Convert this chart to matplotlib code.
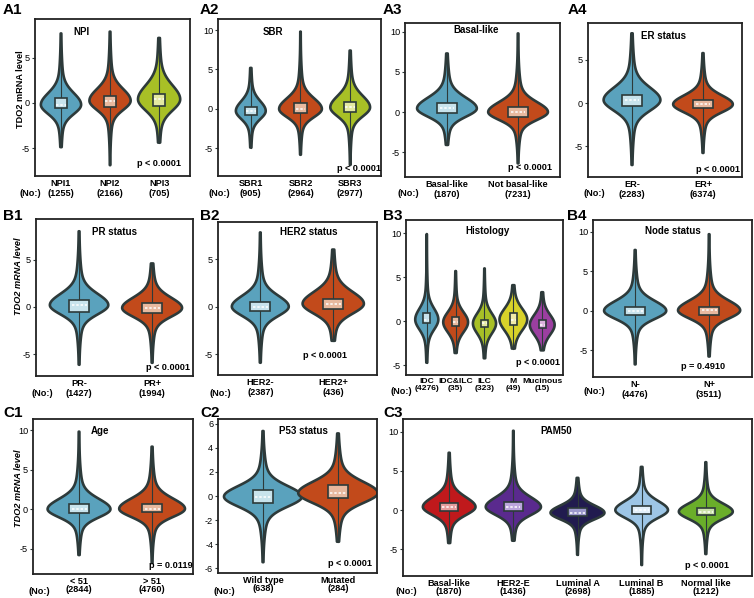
import numpy as np
import matplotlib
matplotlib.use("Agg")
import matplotlib.pyplot as plt
from matplotlib.patches import Rectangle

plt.rcParams["font.family"] = ["Liberation Sans", "DejaVu Sans"]
plt.rcParams["axes.unicode_minus"] = False

# ---- data: each row is (min, q1, median, q3, max) of TDO2 level
npi_labels = ["NPI1", "NPI2", "NPI3"]
npi_n = [1255, 2166, 705]
npi_stats = [[-4.9, -0.6, -0.2, 0.5, 7.7], [-6.9, -0.4, 0.25, 0.8, 7.9], [-4.4, -0.3, 0.4, 1.0, 7.2]]

sbr_labels = ["SBR1", "SBR2", "SBR3"]
sbr_n = [905, 2964, 2977]
sbr_stats = [[-4.9, -0.75, -0.25, 0.25, 5.2], [-5.8, -0.5, 0.0, 0.75, 9.8], [-7.1, -0.35, 0.2, 0.9, 7.4]]

basal_labels = ["Basal-like", "Not basal-like"]
basal_n = [1870, 7231]
basal_stats = [[-4.1, -0.15, 0.45, 1.1, 7.3], [-6.4, -0.6, 0.0, 0.6, 9.8]]

er_labels = ["ER-", "ER+"]
er_n = [2283, 6374]
er_stats = [[-7.2, -0.35, 0.35, 0.93, 8.1], [-5.8, -0.6, -0.15, 0.35, 5.8]]

pr_labels = ["PR-", "PR+"]
pr_n = [1427, 1994]
pr_stats = [[-6.1, -0.5, 0.2, 0.74, 8.0], [-5.9, -0.65, -0.1, 0.4, 4.6]]

her2_labels = ["HER2-", "HER2+"]
her2_n = [2387, 436]
her2_stats = [[-5.9, -0.5, 0.0, 0.5, 7.8], [-3.6, -0.3, 0.3, 0.85, 6.0]]

hist_labels = ["IDC", "IDC&ILC", "ILC", "M", "Mucinous"]
hist_n = [4276, 35, 323, 49, 15]
hist_stats = [[-4.7, -0.2, 0.2, 0.9, 9.9], [-3.6, -0.55, -0.1, 0.45, 5.7], [-4.2, -0.7, -0.25, 0.2, 6.0],
              [-3.1, -0.45, 0.2, 0.9, 4.1], [-3.3, -0.8, -0.4, 0.1, 3.3]]

node_labels = ["N-", "N+"]
node_n = [4476, 3511]
node_stats = [[-6.8, -0.6, 0.0, 0.5, 7.7], [-5.8, -0.5, 0.05, 0.5, 9.7]]

age_labels = ["< 51", "> 51"]
age_n = [2844, 4760]
age_stats = [[-5.8, -0.5, 0.0, 0.6, 9.8], [-6.8, -0.4, 0.05, 0.6, 7.9]]

p53_labels = ["Wild type", "Mutated"]
p53_n = [638, 284]
p53_stats = [[-5.5, -0.6, -0.05, 0.5, 5.4], [-3.8, -0.2, 0.25, 0.9, 5.2]]

pam_labels = ["Basal-like", "HER2-E", "Luminal A", "Luminal B", "Normal like"]
pam_n = [1870, 1436, 2698, 1885, 1212]
pam_stats = [[-4.2, -0.1, 0.4, 0.9, 7.3], [-3.9, -0.1, 0.4, 1.0, 10.1], [-5.7, -0.8, -0.35, 0.25, 4.1],
             [-7.0, -0.5, 0.0, 0.5, 5.5], [-5.6, -0.65, -0.2, 0.3, 6.1]]

titles = ["NPI", "SBR", "Basal-like", "ER status", "PR status", "HER2 status", "Histology",
          "Node status", "Age", "P53 status", "PAM50"]
pvals = ["p < 0.0001", "p < 0.0001", "p < 0.0001", "p < 0.0001", "p < 0.0001", "p < 0.0001",
         "p < 0.0001", "p = 0.4910", "p = 0.0119", "p < 0.0001", "p < 0.0001"]
tags = ["A1", "A2", "A3", "A4", "B1", "B2", "B3", "B4", "C1", "C2", "C3"]

# ---- colours
DARK = "#2d3a3a"
BLUE, ORANGE, GREEN = "#5aa2bd", "#c24a1b", "#a8c026"
BLUE_L, ORANGE_L, GREEN_L = "#c8e3ec", "#e8b99f", "#e3e9a2"
C2 = [BLUE, ORANGE]; C2L = [BLUE_L, ORANGE_L]
C3 = [BLUE, ORANGE, GREEN]; C3L = [BLUE_L, ORANGE_L, GREEN_L]
HIST_C = [BLUE, ORANGE, GREEN, "#d8d22a", "#9b3fa0"]
HIST_CL = [BLUE_L, ORANGE_L, GREEN_L, "#efeaa8", "#d9b0dc"]
PAM_C = ["#c0191c", "#5a2a8e", "#211b4f", "#9dc6e6", "#6aae2a"]
PAM_CL = ["#e59c9c", "#bba5dc", "#9d99cc", "#e2f0fa", "#cbe2ab"]

W, H = 754, 598
fig = plt.figure(figsize=(W / 100, H / 100), dpi=100)


def violin(ax, x, st, color, light, w, su, sd, bw):
    lo, q1, med, q3, hi = st
    y = np.linspace(lo, hi, 500)
    z = np.where(y >= med, (y - med) / su, (med - y) / sd)
    g = 0.85 * np.exp(-0.5 * z ** 2) + 0.15 * np.exp(-0.5 * (z / 2.5) ** 2)
    hw = 0.004 + (w - 0.004) * g
    ax.fill(np.r_[x - hw, (x + hw)[::-1]], np.r_[y, y[::-1]], facecolor=color,
            edgecolor=DARK, lw=1.9, joinstyle="round", zorder=2)
    ax.plot([x, x], [lo, hi], color=DARK, lw=0.8, zorder=3)
    ax.add_patch(Rectangle((x - bw / 2, q1), bw, q3 - q1, facecolor=light,
                           edgecolor=DARK, lw=1.2, zorder=4))
    ax.plot([x - bw * 0.38, x + bw * 0.38], [med, med], color="white", lw=1.1,
            ls=(0, (1.6, 1.2)), zorder=5)


# layout: pixel box (left, top, right, bottom), xlim, ylim, yticks, half widths, sigma up/down,
# box width, title pos, p-value pos/align, label linespacing, (No:) pixel pos
panels = [
    dict(box=(35, 19, 190, 176), xl=(0.47, 3.63), yl=(-8.1, 9.3), yt=[-5, 0, 5],
         labels=npi_labels, n=npi_n, st=npi_stats, c=C3, cl=C3L, w=[0.41, 0.42, 0.43],
         su=[1.25, 1.25, 1.5], sd=[1.0, 1.0, 1.2], bw=0.25, tt=(0.30, 0.95), pp=(0.94, 0.05, "right"),
         ls=1.2, no=(30, 194), tag=(3, 10), ylab=(21, 89, "normal")),
    dict(box=(218, 19, 381, 176), xl=(0.34, 3.62), yl=(-8.5, 11.4), yt=[-5, 0, 5, 10],
         labels=sbr_labels, n=sbr_n, st=sbr_stats, c=C3, cl=C3L, w=[0.3, 0.43, 0.4],
         su=[1.2, 1.3, 1.4], sd=[1.0, 1.0, 1.1], bw=0.25, tt=(0.34, 0.95), pp=(1.0, 0.02, "right"),
         ls=1.2, no=(219, 194), tag=(200, 10)),
    dict(box=(405, 23, 560, 177), xl=(0.41, 2.59), yl=(-8.1, 11.1), yt=[-5, 0, 5, 10],
         labels=basal_labels, n=basal_n, st=basal_stats, c=C2, cl=C2L, w=[0.42, 0.42],
         su=[1.3, 1.2], sd=[1.0, 0.95], bw=0.27, tt=(0.46, 0.985), pp=(0.95, 0.03, "right"),
         ls=1.2, no=(408, 194), tag=(383, 10)),
    dict(box=(588, 23, 742, 177), xl=(0.38, 2.55), yl=(-8.6, 9.3), yt=[-5, 0, 5],
         labels=er_labels, n=er_n, st=er_stats, c=C2, cl=C2L, w=[0.4, 0.42],
         su=[1.4, 1.0], sd=[1.2, 0.9], bw=0.27, tt=(0.49, 0.95), pp=(0.99, 0.02, "right"),
         ls=1.2, no=(594, 194), tag=(568, 10)),
    dict(box=(36, 219, 193, 376), xl=(0.41, 2.56), yl=(-7.3, 9.3), yt=[-5, 0, 5],
         labels=pr_labels, n=pr_n, st=pr_stats, c=C2, cl=C2L, w=[0.4, 0.41],
         su=[1.15, 1.05], sd=[0.95, 0.9], bw=0.27, tt=(0.5, 0.95), pp=(0.98, 0.025, "right"),
         ls=1.2, no=(42, 394), tag=(3, 216), ylab=(19, 276, "italic")),
    dict(box=(218, 222, 377, 375), xl=(0.42, 2.6), yl=(-7.2, 8.9), yt=[-5, 0, 5],
         labels=her2_labels, n=her2_n, st=her2_stats, c=C2, cl=C2L, w=[0.39, 0.42],
         su=[1.1, 1.2], sd=[0.95, 1.0], bw=0.27, tt=(0.57, 0.97), pp=(0.67, 0.1, "center"),
         ls=1.2, no=(220, 394), tag=(200, 216)),
    dict(box=(406, 220, 563, 375), xl=(0.28, 5.72), yl=(-6.1, 11.5), yt=[-5, 0, 5, 10],
         labels=hist_labels, n=hist_n, st=hist_stats, c=HIST_C, cl=HIST_CL,
         w=[0.4, 0.43, 0.4, 0.48, 0.43], su=[1.2, 1.1, 1.1, 1.2, 1.1], sd=[1.1, 1.1, 1.1, 1.2, 1.1],
         bw=0.23, tt=(0.52, 0.96), pp=(0.98, 0.05, "right"),
         ls=1.0, no=(401, 391), tag=(383, 216), fs=6.1),
    dict(box=(593, 220, 752, 377), xl=(0.43, 2.58), yl=(-8.4, 11.5), yt=[-5, 0, 5, 10],
         labels=node_labels, n=node_n, st=node_stats, c=C2, cl=C2L, w=[0.42, 0.42],
         su=[1.2, 1.2], sd=[1.0, 1.0], bw=0.27, tt=(0.5, 0.96), pp=(0.69, 0.04, "center"),
         ls=1.2, no=(594, 392), tag=(567, 216)),
    dict(box=(33, 419, 193, 574), xl=(0.37, 2.56), yl=(-8.2, 11.4), yt=[-5, 0, 5, 10],
         labels=age_labels, n=age_n, st=age_stats, c=C2, cl=C2L, w=[0.43, 0.45],
         su=[1.25, 1.25], sd=[1.0, 1.0], bw=0.27, tt=(0.42, 0.955), pp=(0.995, 0.025, "right"),
         ls=0.95, no=(39, 591), tag=(3, 413), ylab=(19, 488, "italic")),
    dict(box=(218, 419, 377, 573), xl=(0.4, 2.52), yl=(-6.4, 6.4), yt=[-6, -4, -2, 0, 2, 4, 6],
         labels=p53_labels, n=p53_n, st=p53_stats, c=C2, cl=C2L, w=[0.52, 0.53],
         su=[0.85, 0.9], sd=[0.8, 0.8], bw=0.27, tt=(0.54, 0.955), pp=(0.97, 0.03, "right"),
         ls=0.95, no=(224, 591), tag=(200, 413)),
    dict(box=(403, 419, 752, 576), xl=(0.28, 5.72), yl=(-8.4, 11.6), yt=[-5, 0, 5, 10],
         labels=pam_labels, n=pam_n, st=pam_stats, c=PAM_C, cl=PAM_CL,
         w=[0.41, 0.43, 0.42, 0.41, 0.42], su=[1.2, 1.2, 0.9, 1.1, 1.0], sd=[1.0, 1.0, 0.8, 0.95, 0.9],
         bw=0.29, tt=(0.44, 0.955), pp=(0.87, 0.04, "center"),
         ls=0.87, no=(406, 591), tag=(383, 413)),
]

for i, p in enumerate(panels):
    l, t, r, b = p["box"]
    ax = fig.add_axes([l / W, 1 - b / H, (r - l) / W, (b - t) / H])
    xs = np.arange(1, len(p["labels"]) + 1)
    for k, x in enumerate(xs):
        violin(ax, x, p["st"][k], p["c"][k], p["cl"][k], p["w"][k], p["su"][k], p["sd"][k], p["bw"])
    ax.set_xlim(*p["xl"])
    ax.set_ylim(*p["yl"])
    ax.set_yticks(p["yt"])
    ax.set_yticklabels([str(v) for v in p["yt"]], fontsize=6.6)
    ax.set_xticks(xs)
    ax.set_xticklabels([f"{a}\n({m})" for a, m in zip(p["labels"], p["n"])], fontsize=p.get("fs", 6.6),
                       fontweight="bold", linespacing=p["ls"])
    ax.tick_params(axis="x", length=0, pad=2)
    ax.tick_params(axis="y", length=2, width=0.8, pad=1.5, color=DARK)
    for s in ax.spines.values():
        s.set_linewidth(1.3)
        s.set_color("#222222")
    ax.text(p["tt"][0], p["tt"][1], titles[i], transform=ax.transAxes, ha="center", va="top",
            fontsize=7, fontweight="bold")
    ax.text(p["pp"][0], p["pp"][1], pvals[i], transform=ax.transAxes, ha=p["pp"][2], va="bottom",
            fontsize=6.6, fontweight="bold")
    fig.text(p["no"][0] / W, 1 - p["no"][1] / H, "(No:)", ha="center", va="center",
             fontsize=6.6, fontweight="bold")
    fig.text(p["tag"][0] / W, 1 - p["tag"][1] / H, tags[i], ha="left", va="center",
             fontsize=11, fontweight="bold")
    if "ylab" in p:
        yx, yy, style = p["ylab"]
        fig.text(yx / W, 1 - yy / H, "TDO2 mRNA level", rotation=90, ha="center", va="center",
                 fontsize=6.6, fontweight="bold", fontstyle=style)

fig.savefig("out.png", dpi=100)
